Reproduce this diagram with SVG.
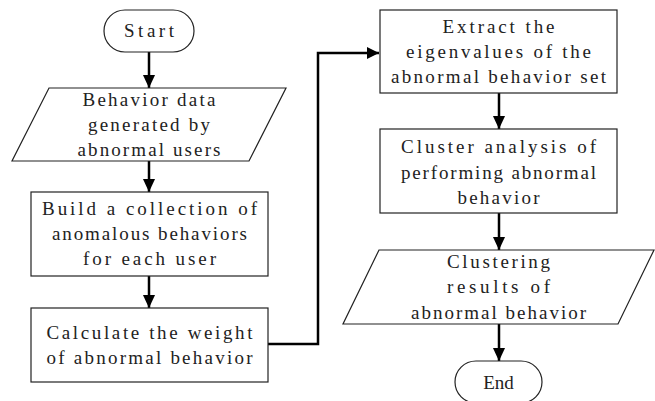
<svg xmlns="http://www.w3.org/2000/svg" width="655" height="401" viewBox="0 0 655 401">
<style>
.n{fill:#fff;stroke:#222;stroke-width:1.2}
.t{font-family:"Liberation Serif","Noto Sans CJK SC",serif;font-size:19px;fill:#222;text-anchor:middle}
.c{fill:none;stroke:#000;stroke-width:2.5}
</style>
<defs>
<marker id="ah" markerWidth="12" markerHeight="12" viewBox="0 0 12 12" refX="12" refY="6" orient="auto" markerUnits="userSpaceOnUse">
<path d="M0,0 L12,6 L0,12 Z" fill="#000"/>
</marker>
<marker id="av" markerWidth="13" markerHeight="14" viewBox="0 0 14 13" refX="14" refY="6.5" orient="auto" markerUnits="userSpaceOnUse">
<path d="M0,0 L14,6.5 L0,13 Z" fill="#000"/>
</marker>
</defs>
<rect width="655" height="401" fill="#fff"/>
<g id="connectors">
<line class="c" x1="149" y1="52" x2="149" y2="88" marker-end="url(#av)"/>
<line class="c" x1="149" y1="161" x2="149" y2="192" marker-end="url(#av)"/>
<line class="c" x1="149" y1="276" x2="149" y2="308" marker-end="url(#av)"/>
<polyline class="c" points="267,344 318,344 318,53 379,53" marker-end="url(#ah)"/>
<line class="c" x1="499" y1="93" x2="499" y2="129" marker-end="url(#av)"/>
<line class="c" x1="499" y1="213" x2="499" y2="250" marker-end="url(#av)"/>
<line class="c" x1="499" y1="324" x2="499" y2="361" marker-end="url(#av)"/>
</g>
<g id="start">
<rect class="n" x="104" y="10" width="90" height="42" rx="21" ry="21"/>
<text class="t" x="149" y="37" textLength="50" lengthAdjust="spacing">Start</text>
</g>
<g id="input">
<polygon class="n" points="49,88 286,88 249,161 12,161"/>
<text class="t" x="149" y="106" textLength="133" lengthAdjust="spacing">Behavior data</text>
<text class="t" x="149" y="131" textLength="122" lengthAdjust="spacing">generated by</text>
<text class="t" x="149" y="156" textLength="143" lengthAdjust="spacing">abnormal users</text>
</g>
<g id="build">
<rect class="n" x="31" y="192" width="237" height="84"/>
<text class="t" x="149.5" y="215" textLength="215" lengthAdjust="spacing">Build a collection of</text>
<text class="t" x="149.5" y="240" textLength="195" lengthAdjust="spacing">anomalous behaviors</text>
<text class="t" x="149.5" y="265" textLength="133" lengthAdjust="spacing">for each user</text>
</g>
<g id="weight">
<rect class="n" x="31" y="308" width="237" height="74"/>
<text class="t" x="149.5" y="339" textLength="206" lengthAdjust="spacing">Calculate the weight</text>
<text class="t" x="149.5" y="364" textLength="206" lengthAdjust="spacing">of abnormal behavior</text>
</g>
<g id="extract">
<rect class="n" x="380" y="10" width="237" height="83"/>
<text class="t" x="498.5" y="33" textLength="112" lengthAdjust="spacing">Extract the</text>
<text class="t" x="498.5" y="58" textLength="185" lengthAdjust="spacing">eigenvalues of the</text>
<text class="t" x="498.5" y="83" textLength="215" lengthAdjust="spacing">abnormal behavior set</text>
</g>
<g id="cluster">
<rect class="n" x="380" y="129" width="237" height="84"/>
<text class="t" x="498.5" y="153" textLength="195" lengthAdjust="spacing">Cluster analysis of</text>
<text class="t" x="498.5" y="179" textLength="195" lengthAdjust="spacing">performing abnormal</text>
<text class="t" x="498.5" y="204" textLength="82" lengthAdjust="spacing">behavior</text>
</g>
<g id="results">
<polygon class="n" points="379,250 654,250 618,324 343,324"/>
<text class="t" x="498.5" y="268" textLength="103" lengthAdjust="spacing">Clustering</text>
<text class="t" x="498.5" y="293" textLength="103" lengthAdjust="spacing">results of</text>
<text class="t" x="498.5" y="319" textLength="175" lengthAdjust="spacing">abnormal behavior</text>
</g>
<g id="end">
<rect class="n" x="455" y="361" width="87" height="42" rx="21" ry="21"/>
<text class="t" x="498.5" y="389">End</text>
</g>
</svg>
